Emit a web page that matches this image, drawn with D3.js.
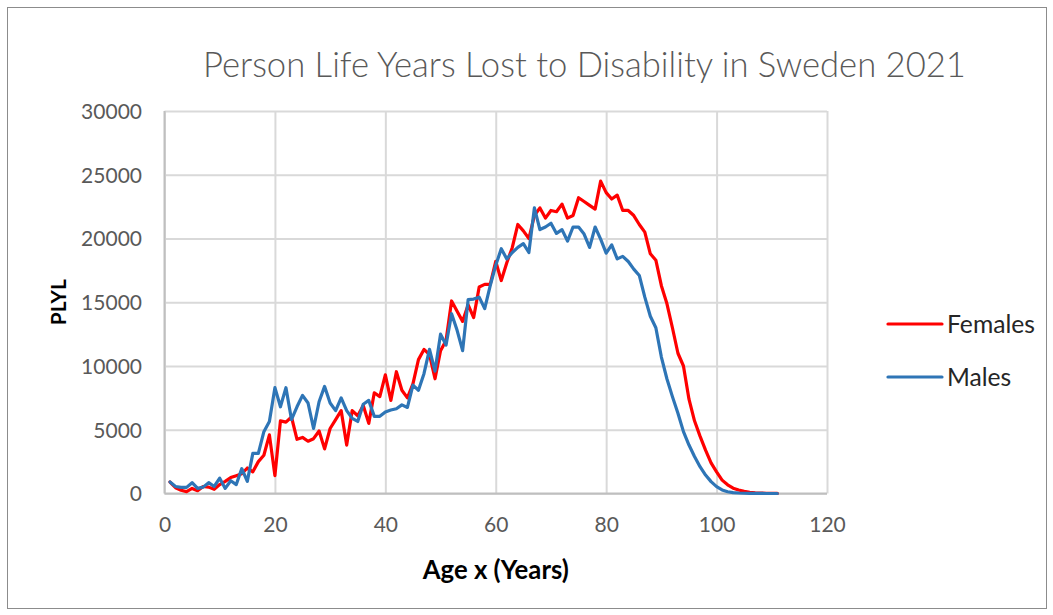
<!DOCTYPE html>
<html>
<head>
<meta charset="utf-8">
<script src="https://cdn.jsdelivr.net/npm/d3@7"></script>
<style>
  html, body { margin: 0; padding: 0; background: #ffffff; }
  svg { display: block; }
</style>
</head>
<body>
<svg id="chart" width="1053" height="615"></svg>
<script>
// Age in single years
const ages = [
  1, 2, 3, 4, 5, 6, 7, 8, 9, 10,
  11, 12, 13, 14, 15, 16, 17, 18, 19, 20,
  21, 22, 23, 24, 25, 26, 27, 28, 29, 30,
  31, 32, 33, 34, 35, 36, 37, 38, 39, 40,
  41, 42, 43, 44, 45, 46, 47, 48, 49, 50,
  51, 52, 53, 54, 55, 56, 57, 58, 59, 60,
  61, 62, 63, 64, 65, 66, 67, 68, 69, 70,
  71, 72, 73, 74, 75, 76, 77, 78, 79, 80,
  81, 82, 83, 84, 85, 86, 87, 88, 89, 90,
  91, 92, 93, 94, 95, 96, 97, 98, 99, 100,
  101, 102, 103, 104, 105, 106, 107, 108, 109, 110,
  111
];

// Person life years lost to disability, females
const females = [
  900, 450, 250, 150, 400, 220, 550, 500, 330, 700,
  950, 1250, 1400, 1550, 2000, 1700, 2500, 3000, 4600, 1400,
  5700, 5600, 6000, 4250, 4400, 4100, 4300, 4900, 3500, 5100,
  5800, 6500, 3800, 6500, 6100, 6900, 5500, 7900, 7600, 9300,
  7300, 9550, 8100, 7500, 8600, 10500, 11300, 10900, 9000, 11200,
  12000, 15100, 14300, 13500, 14800, 13800, 16200, 16400, 16400, 18200,
  16700, 18100, 19300, 21100, 20600, 20000, 21800, 22400, 21600, 22200,
  22100, 22700, 21600, 21800, 23200, 22900, 22600, 22300, 24500, 23600,
  23100, 23400, 22200, 22200, 21800, 21100, 20500, 18800, 18300, 16300,
  14900, 13000, 11000, 10000, 7400, 5700, 4500, 3400, 2400, 1700,
  1050, 680, 420, 270, 170, 100, 60, 35, 20, 10,
  5
];

// Person life years lost to disability, males
const males = [
  900, 550, 480, 480, 850, 400, 500, 850, 550, 1200,
  400, 1000, 700, 1950, 950, 3150, 3150, 4850, 5650, 8300,
  6800, 8300, 5800, 6800, 7700, 7100, 5100, 7200, 8400, 7100,
  6500, 7500, 6500, 5900, 5650, 7000, 7300, 6050, 6050, 6400,
  6550, 6650, 6950, 6750, 8500, 8100, 9400, 11300, 9600, 12500,
  11650, 14100, 12800, 11200, 15200, 15250, 15400, 14500, 16300, 17900,
  19200, 18400, 18900, 19300, 19600, 18900, 22400, 20700, 20900, 21200,
  20400, 20700, 19800, 20900, 20900, 20350, 19300, 20900, 19950, 18850,
  19500, 18400, 18600, 18200, 17600, 17100, 15400, 13900, 13000, 10700,
  9000, 7600, 6300, 4850, 3800, 2900, 2100, 1450, 930, 540,
  280, 140, 70, 40, 20, 10, 5, 3, 2, 1,
  0
];

const xTicks = [0, 20, 40, 60, 80, 100, 120];
const yTicks = [0, 5000, 10000, 15000, 20000, 25000, 30000];

const seriesNames = ["Females", "Males"];
const seriesColors = ["#ff0000", "#2e75b6"];

const titleText = "Person Life Years Lost to Disability in Sweden 2021";
const xTitleText = "Age x (Years)";
const yTitleText = "PLYL";

// ---------------------------------------------------------------
const W = 1053, H = 615;
const FONT = "Lato, 'Open Sans', 'DejaVu Sans', sans-serif";
const plot = { left: 164.5, right: 827, top: 111, bottom: 493.5 };

const svg = d3.select("#chart");

// scale a text's font size so its rendered width equals target
function fitWidth(sel, target) {
  const w = sel.node().getComputedTextLength();
  const fs = parseFloat(sel.attr("font-size"));
  if (w > 0) sel.attr("font-size", (fs * target / w).toFixed(2));
  return sel;
}

// chart area and outer frame
svg.append("rect")
  .attr("x", 7.5).attr("y", 7.5)
  .attr("width", 1039).attr("height", 601)
  .attr("fill", "#ffffff")
  .attr("stroke", "#8c8c8c")
  .attr("stroke-width", 1);

const x = d3.scaleLinear().domain([0, 120]).range([plot.left, plot.right]);
const y = d3.scaleLinear().domain([0, 30000]).range([plot.bottom, plot.top]);

// horizontal gridlines + value labels
const yAxis = svg.append("g")
  .attr("transform", `translate(${plot.left},0)`)
  .call(d3.axisLeft(y)
    .tickValues(yTicks)
    .tickFormat(d3.format("d"))
    .tickSize(-(plot.right - plot.left))
    .tickPadding(22.5));
yAxis.select(".domain").remove();
yAxis.selectAll(".tick line")
  .attr("stroke", "#d9d9d9")
  .attr("stroke-width", 2);
yAxis.selectAll(".tick text")
  .attr("font-family", FONT)
  .attr("font-size", 21)
  .attr("fill", "#595959")
  .attr("dy", "0.35em");

// vertical gridlines + age labels
const xAxis = svg.append("g")
  .attr("transform", `translate(0,${plot.bottom})`)
  .call(d3.axisBottom(x)
    .tickValues(xTicks)
    .tickFormat(d3.format("d"))
    .tickSize(-(plot.bottom - plot.top))
    .tickPadding(24));
xAxis.select(".domain").remove();
xAxis.selectAll(".tick line")
  .attr("stroke", "#d9d9d9")
  .attr("stroke-width", 2);
xAxis.selectAll(".tick text")
  .attr("font-family", FONT)
  .attr("font-size", 21)
  .attr("fill", "#595959");

// axis lines
svg.append("line")
  .attr("x1", x(0)).attr("x2", x(0))
  .attr("y1", y(30000)).attr("y2", y(0))
  .attr("stroke", "#bfbfbf").attr("stroke-width", 2);
svg.append("line")
  .attr("x1", x(0)).attr("x2", x(120))
  .attr("y1", y(0)).attr("y2", y(0))
  .attr("stroke", "#bfbfbf").attr("stroke-width", 2);

// series lines
const series = [females, males];
const line = d3.line()
  .x((d, i) => x(ages[i]))
  .y(d => y(d));

svg.append("g")
  .selectAll("path")
  .data(series)
  .join("path")
  .attr("d", d => line(d))
  .attr("fill", "none")
  .attr("stroke", (d, i) => seriesColors[i])
  .attr("stroke-width", 3.2)
  .attr("stroke-linejoin", "round")
  .attr("stroke-linecap", "round");

// chart title
const title = svg.append("text")
  .attr("x", 584.5).attr("y", 77)
  .attr("text-anchor", "middle")
  .attr("font-family", FONT)
  .attr("font-weight", 300)
  .attr("font-size", 30)
  .attr("fill", "#595959")
  .text(titleText);
fitWidth(title, 763);

// axis titles
const xTitle = svg.append("text")
  .attr("x", (plot.left + plot.right) / 2).attr("y", 579)
  .attr("text-anchor", "middle")
  .attr("font-family", FONT)
  .attr("font-weight", 700)
  .attr("font-size", 22)
  .attr("fill", "#000000")
  .text(xTitleText);
fitWidth(xTitle, 146);

const yTitle = svg.append("text")
  .attr("transform", `translate(66,${(plot.top + plot.bottom) / 2}) rotate(-90)`)
  .attr("text-anchor", "middle")
  .attr("font-family", FONT)
  .attr("font-weight", 700)
  .attr("font-size", 21)
  .attr("fill", "#000000")
  .text(yTitleText);
fitWidth(yTitle, 46);

// legend
const legendY = [324, 377];
const legend = svg.append("g")
  .selectAll("g")
  .data(seriesNames)
  .join("g")
  .attr("transform", (d, i) => `translate(888,${legendY[i]})`);
legend.append("line")
  .attr("x1", 0).attr("x2", 54)
  .attr("y1", 0).attr("y2", 0)
  .attr("stroke", (d, i) => seriesColors[i])
  .attr("stroke-width", 3.2)
  .attr("stroke-linecap", "round");
legend.append("text")
  .attr("x", 59).attr("y", 9)
  .attr("font-family", FONT)
  .attr("font-size", 23)
  .attr("fill", "#262626")
  .text(d => d);
fitWidth(legend.select("text").filter((d, i) => i === 0), 88);
const legendSize = legend.select("text").filter((d, i) => i === 0).attr("font-size");
legend.selectAll("text").attr("font-size", legendSize);
</script>
</body>
</html>
